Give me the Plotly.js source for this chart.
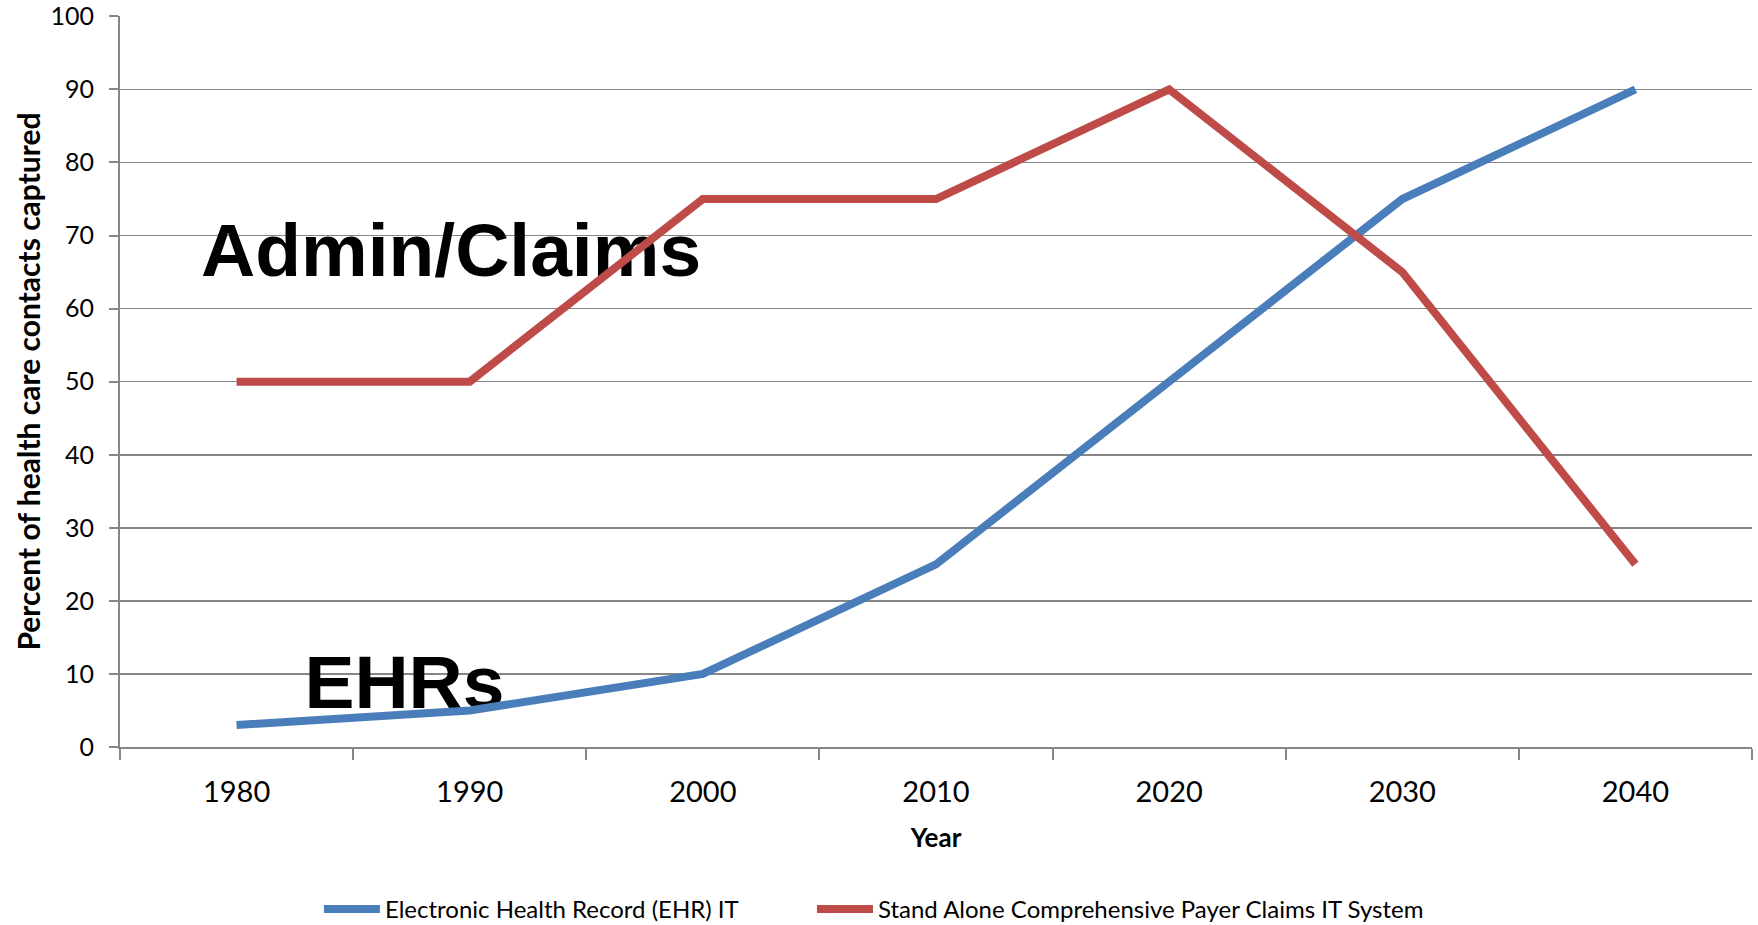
<!DOCTYPE html>
<html>
<head>
<meta charset="utf-8">
<script src="https://cdn.plot.ly/plotly-3.0.1.min.js"></script>
<style>
  html, body { margin: 0; padding: 0; background: #ffffff; }
  #chart { width: 1758px; height: 925px; }
</style>
</head>
<body>
<div id="chart"></div>
<script>
// Share of health care contacts captured by each IT system, by decade
const years = [1980, 1990, 2000, 2010, 2020, 2030, 2040];
const yearLabels = ["1980", "1990", "2000", "2010", "2020", "2030", "2040"];
const ehrShare = [3, 5, 10, 25, 50, 75, 90];
const claimsShare = [50, 50, 75, 75, 90, 65, 25];
const percentTicks = [0, 10, 20, 30, 40, 50, 60, 70, 80, 90, 100];

const seriesNames = ["Electronic Health Record (EHR) IT", "Stand Alone Comprehensive Payer Claims IT System"];
const bigLabels = ["Admin/Claims", "EHRs"];

const blue = "#4A7EBB";
const red = "#BE4B48";
const axisGrey = "#868686";

const traces = [
  // large in-chart labels, drawn first so the lines pass over them
  {
    x: [1989.2, 1987.2],
    y: [67.0, 7.9],
    text: bigLabels,
    mode: "text",
    textposition: "middle center",
    textfont: { family: "Liberation Sans, Arial, sans-serif", size: 75, color: "#000000", weight: "bold" },
    hoverinfo: "skip",
    showlegend: false
  },
  {
    x: years,
    y: ehrShare,
    name: seriesNames[0],
    mode: "lines",
    line: { color: blue, width: 8 },
    legend: "legend"
  },
  {
    x: years,
    y: claimsShare,
    name: seriesNames[1],
    mode: "lines",
    line: { color: red, width: 8 },
    legend: "legend2"
  }
];

const legendStyle = {
  orientation: "h",
  xanchor: "left",
  y: -0.222,
  yanchor: "middle",
  font: { family: "Lato, sans-serif", size: 24, color: "#000000" },
  itemwidth: 56,
  bgcolor: "rgba(0,0,0,0)"
};

const layout = {
  width: 1758,
  height: 925,
  paper_bgcolor: "#ffffff",
  plot_bgcolor: "#ffffff",
  margin: { l: 120, r: 6, t: 16, b: 178, autoexpand: false },
  font: { family: "Lato, sans-serif", color: "#000000" },
  showlegend: true,
  legend: Object.assign({ x: 0.1219 }, legendStyle),
  legend2: Object.assign({ x: 0.424 }, legendStyle),
  xaxis: {
    range: [1975, 2045],
    tickvals: years,
    ticktext: yearLabels,
    ticks: "",
    ticklabelstandoff: 18,
    showgrid: false,
    zeroline: false,
    showline: true,
    linecolor: axisGrey,
    linewidth: 2,
    tickfont: { family: "Lato, sans-serif", size: 29, color: "#000000" },
    minor: {
      tick0: 1975,
      dtick: 10,
      ticks: "outside",
      ticklen: 11,
      tickwidth: 2,
      tickcolor: axisGrey,
      showgrid: false
    },
    title: {
      text: "Year",
      font: { family: "Lato, sans-serif", size: 26, color: "#000000", weight: "bold" },
      standoff: 22
    },
    fixedrange: true
  },
  yaxis: {
    range: [0, 100.05],
    tickvals: percentTicks,
    ticks: "outside",
    ticklen: 9,
    tickwidth: 2,
    tickcolor: axisGrey,
    ticklabelstandoff: 10,
    ticklabeloverflow: "allow",
    showgrid: true,
    gridcolor: axisGrey,
    gridwidth: 1.5,
    zeroline: false,
    showline: true,
    linecolor: axisGrey,
    linewidth: 2,
    tickfont: { family: "Lato, sans-serif", size: 25, color: "#000000" },
    title: {
      text: "Percent of health care contacts captured",
      font: { family: "Lato, sans-serif", size: 30, color: "#000000", weight: "bold" },
      standoff: 1
    },
    fixedrange: true
  }
};

Plotly.newPlot("chart", traces, layout, { displayModeBar: false, staticPlot: true });
</script>
</body>
</html>
